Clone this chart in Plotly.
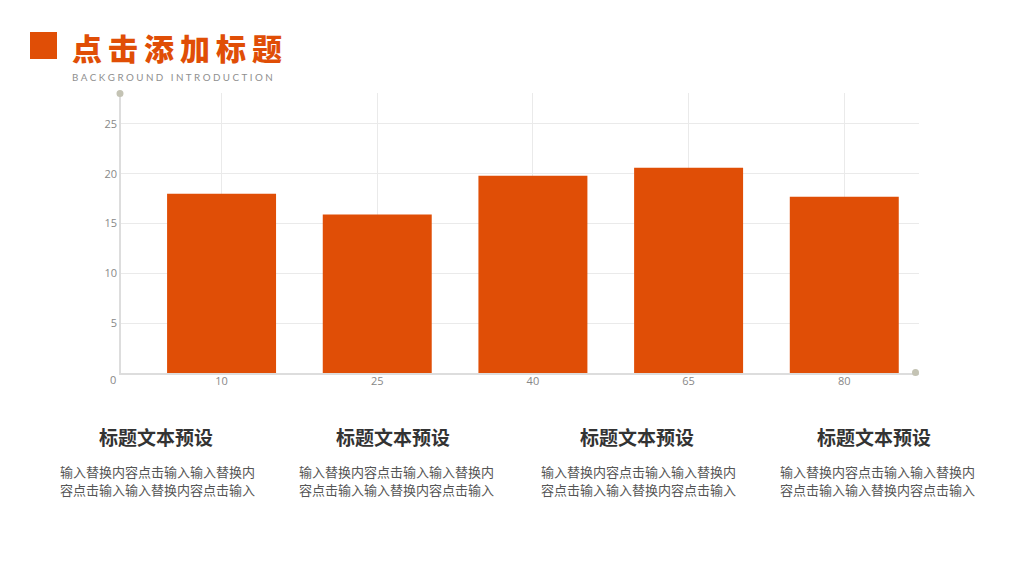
import plotly.graph_objects as go

CATEGORIES = ["10", "25", "40", "65", "80"]
VALUES = [18.0, 15.9, 19.8, 20.6, 17.7]
Y_TICKS = [5, 10, 15, 20, 25]

TITLE = "\u2009".join("点击添加标题")
SUBTITLE = "\u2009\u2009".join("BACKGROUND INTRODUCTION")
CAPTION_HEAD = "标题文本预设"
CAPTION_LINE_1 = "输入替换内容点击输入输入替换内"
CAPTION_LINE_2 = "容点击输入输入替换内容点击输入"
HEAD_CENTERS = [156, 393, 637, 874]
BODY_CENTERS = [157.5, 396, 638.5, 877]

WIDTH, HEIGHT = 1024, 576
LEFT, RIGHT, TOP, BOTTOM = 121, 105, 93, 203
ORANGE = "#E04E06"
CJK = "Noto Sans CJK SC"


def px_x(x):
    # paper coords are relative to the plot area, not the page
    return (x - LEFT) / (WIDTH - LEFT - RIGHT)


def px_y(y):
    return (HEIGHT - BOTTOM - y) / (HEIGHT - TOP - BOTTOM)


def page_text(x, y, text, size, color, anchor="center", family=CJK, weight="normal"):
    # annotation placed in page pixels
    return dict(
        x=px_x(x), y=px_y(y), xref="paper", yref="paper",
        text=text, showarrow=False, xanchor=anchor, yanchor="middle",
        font=dict(size=size, color=color, family=family, weight=weight),
    )


def page_circle(x, y, r, color):
    return dict(
        type="circle", xref="paper", yref="paper", layer="above",
        x0=px_x(x - r), x1=px_x(x + r), y0=px_y(y + r), y1=px_y(y - r),
        fillcolor=color, line=dict(width=0),
    )


fig = go.Figure(go.Bar(x=CATEGORIES, y=VALUES, marker=dict(color=ORANGE, line=dict(width=0))))

annotations = [
    page_text(70, 47, TITLE, 30, ORANGE, anchor="left", weight=900),
    page_text(70, 77, SUBTITLE, 9.8, "#8f8f8f", anchor="left", family="Lato"),
    page_text(113, 379, "0", 11, "#888888", family="Open Sans"),
]
for center in HEAD_CENTERS:
    annotations.append(page_text(center, 436, CAPTION_HEAD, 19, "#333333", weight="bold"))
for center in BODY_CENTERS:
    annotations.append(page_text(center, 471, CAPTION_LINE_1, 13, "#555555"))
    annotations.append(page_text(center, 489, CAPTION_LINE_2, 13, "#555555"))

shapes = [
    dict(
        type="rect", xref="paper", yref="paper",
        x0=px_x(30), x1=px_x(57), y0=px_y(59), y1=px_y(32),
        fillcolor=ORANGE, line=dict(width=0),
    ),
    page_circle(120, 93.5, 3.5, "#C4C3B4"),
    page_circle(915.5, 372.5, 3.5, "#C4C3B4"),
]

fig.update_layout(
    width=WIDTH,
    height=HEIGHT,
    margin=dict(l=LEFT, r=RIGHT, t=TOP, b=BOTTOM, autoexpand=False),
    paper_bgcolor="white",
    plot_bgcolor="white",
    showlegend=False,
    bargap=0.3,
    annotations=annotations,
    shapes=shapes,
    xaxis=dict(
        type="category",
        range=[-0.646, 4.48],
        showgrid=True,
        gridcolor="#EAEAEA",
        showline=True,
        linecolor="#DDDDDD",
        linewidth=1.5,
        ticks="",
        ticklabelstandoff=-3,
        tickfont=dict(size=11, color="#888888", family="Open Sans"),
    ),
    yaxis=dict(
        range=[0, 28.1],
        tickvals=Y_TICKS,
        showgrid=True,
        gridcolor="#EAEAEA",
        zeroline=False,
        showline=True,
        linecolor="#DDDDDD",
        linewidth=1.5,
        ticks="",
        tickfont=dict(size=11, color="#888888", family="Open Sans"),
    ),
)

fig.write_html("out.html", config=dict(displayModeBar=False), post_script="document.body.style.margin='0';")
